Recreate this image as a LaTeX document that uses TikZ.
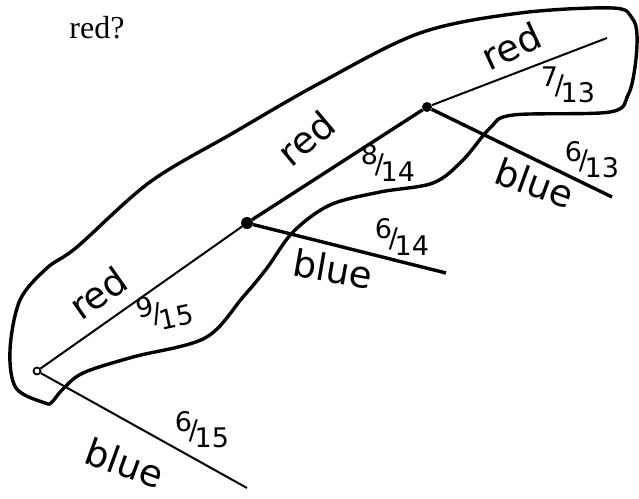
\documentclass[tikz,border=0pt]{standalone}
\usepackage{fontspec}
\setmainfont{Liberation Serif}
\newfontfamily\hand{DejaVu Sans}
\newcommand{\hfrac}[2]{\raisebox{0.55ex}{#1}\kern-0.12em/\kern-0.12em\raisebox{-0.55ex}{#2}}
\begin{document}
\begin{tikzpicture}[x=1pt,y=-1pt,
  thinbranch/.style={line width=2pt},
  thickbranch/.style={line width=3.4pt},
  loopline/.style={line width=3.4pt,line join=round},
  lbl/.style={font=\hand\fontsize{37}{37}\selectfont,inner sep=0pt},
  fr/.style={font=\hand\fontsize{27}{27}\selectfont,inner sep=0pt},
  title/.style={font=\fontsize{32}{32}\selectfont,inner sep=0pt}]
\useasboundingbox (0,0) rectangle (639,498);
\node[title] (q) at (97,28) {red?};
% tree nodes
\node[draw,circle,inner sep=0pt,minimum size=7pt,line width=1.8pt] (r) at (37,371) {};
\node[fill,circle,inner sep=0pt,minimum size=12pt] (a) at (247,223) {};
\node[fill,circle,inner sep=0pt,minimum size=10pt] (b) at (427,107) {};
\coordinate (br) at (607,38);
\coordinate (bb) at (612,197);
\coordinate (ab) at (446,273);
\coordinate (rb) at (247,488);
% branches
\draw[thinbranch] (r) -- (a);
\draw[thickbranch] (a) -- (b);
\draw[thinbranch] (b) -- (br);
\draw[thickbranch] (b) -- (bb);
\draw[thickbranch] (a) -- (ab);
\draw[thinbranch] (r) -- (rb);
% enclosing loop
\draw[loopline] plot[smooth cycle,tension=0.55] coordinates {
 (45,403) (16,388) (10,350) (20,300) (47,268) (77,247) (150,182) (233,133)
 (320,83) (420,33) (520,13) (613,8) (632,18) (637,35) (635,67) (628,95)
 (610,112) (513,115) (490,128) (463,160) (433,183) (380,192) (330,205)
 (293,232) (267,268) (243,297) (205,338) (133,357) (83,373) (62,390) (52,402)};
% labels
\node[lbl,rotate=35] (l1) at (98,293) {red};
\node[fr,rotate=12] (f1) at (165,311) {\hfrac{9}{15}};
\node[lbl,rotate=40] (l2) at (306,138) {red};
\node[fr] (f2) at (388,163) {\hfrac{8}{14}};
\node[lbl,rotate=25] (l3) at (511,46) {red};
\node[fr] (f3) at (568,85) {\hfrac{7}{13}};
\node[fr] (f4) at (592,160) {\hfrac{6}{13}};
\node[lbl,rotate=-20] (l4) at (535,183) {blue};
\node[fr] (f5) at (402,237) {\hfrac{6}{14}};
\node[lbl,rotate=-10] (l5) at (333,269) {blue};
\node[fr] (f6) at (202,430) {\hfrac{6}{15}};
\node[lbl,rotate=-20] (l6) at (125,463) {blue};
\end{tikzpicture}
\end{document}
